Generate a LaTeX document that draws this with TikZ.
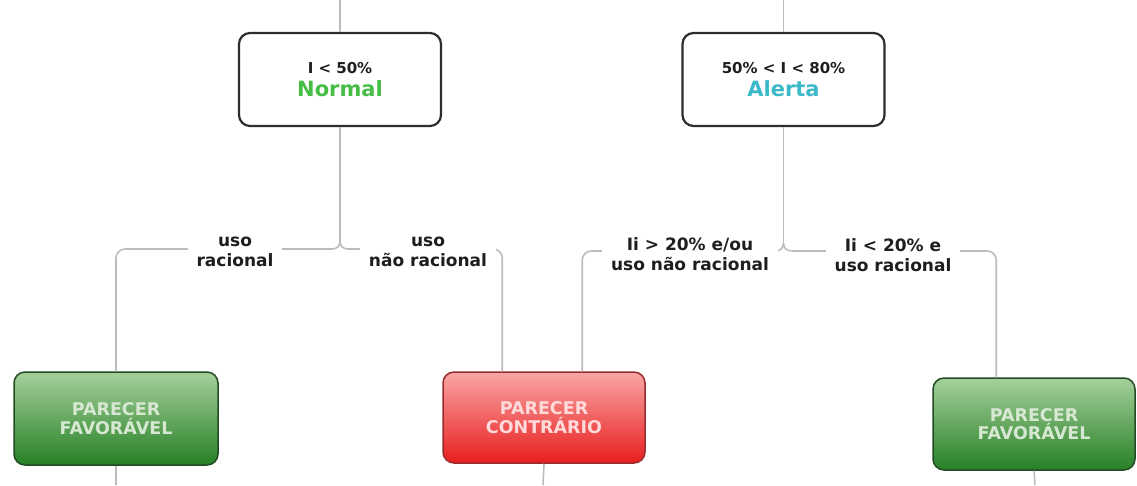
\documentclass[tikz,border=0pt]{standalone}
\usepackage{fontspec}
\setmainfont{DejaVu Sans}
\usetikzlibrary{calc}
\definecolor{conncol}{RGB}{188,188,188}
\definecolor{boxedge}{RGB}{45,45,45}
\definecolor{lblcol}{RGB}{30,30,30}
\definecolor{normalgreen}{RGB}{70,190,70}
\definecolor{alertcyan}{RGB}{60,185,200}
\definecolor{greentop}{RGB}{165,208,155}
\definecolor{greenbot}{RGB}{38,128,38}
\definecolor{greenedge}{RGB}{35,75,35}
\definecolor{greentext}{RGB}{215,232,210}
\definecolor{redtop}{RGB}{250,165,165}
\definecolor{redbot}{RGB}{232,30,30}
\definecolor{rededge}{RGB}{150,45,45}
\definecolor{redtext}{RGB}{255,218,218}
\begin{document}
\begin{tikzpicture}[x=1pt,y=-1pt,
  conn/.style={draw=conncol,line width=1.6pt,rounded corners=9pt},
  whitebox/.style={draw=boxedge,line width=2.2pt,rounded corners=11pt,fill=white,
    minimum width=202pt,minimum height=93pt,align=center,inner sep=0pt,text=lblcol,
    font=\bfseries},
  greenbox/.style={draw=greenedge,line width=1.5pt,rounded corners=11pt,
    top color=greentop,bottom color=greenbot,minimum width=204pt,minimum height=93pt,
    align=center,inner sep=0pt,text=greentext,font=\bfseries\fontsize{17.5}{18.5}\selectfont},
  redbox/.style={draw=rededge,line width=1.5pt,rounded corners=11pt,
    top color=redtop,bottom color=redbot,minimum width=202pt,minimum height=91pt,
    align=center,inner sep=0pt,text=redtext,font=\bfseries\fontsize{17.5}{18.5}\selectfont},
  lbl/.style={fill=white,align=center,text=lblcol,inner xsep=9pt,inner ysep=3pt,
    font=\bfseries\fontsize{17}{20}\selectfont}
]
\useasboundingbox (0,0) rectangle (1137,485);

% boxes
\node[whitebox] (normal) at (340,79.5)
  {{\fontsize{15}{17}\selectfont I < 50\%}\\[5pt]{\fontsize{21}{22}\selectfont\color{normalgreen}Normal}};
\node[whitebox] (alerta) at (783.5,79.5)
  {{\fontsize{15}{17}\selectfont 50\% < I < 80\%}\\[5pt]{\fontsize{21}{22}\selectfont\color{alertcyan}Alerta}};
\node[greenbox] (fav1) at (116,418.5) {PARECER\\FAVORÁVEL};
\node[redbox] (contr) at (544,417.5) {PARECER\\CONTRÁRIO};
\node[greenbox,minimum width=202pt,minimum height=92pt] (fav2) at (1034,424) {PARECER\\FAVORÁVEL};

% named coordinates
\coordinate (t1) at (340,0);
\coordinate (t2) at (783.5,0);
\coordinate (b1) at (116,485);
\coordinate (b2) at (543,485);
\coordinate (b3) at (1035,485);
\coordinate (nj) at (340,241);
\coordinate (nl) at (332,249);
\coordinate (nr) at (348,249);
\coordinate (aj) at (783.5,243);
\coordinate (al) at (775.5,251);
\coordinate (ar) at (791.5,251);
\coordinate (cin1) at ($(contr.north west)+(60,0)$);
\coordinate (cin2) at ($(contr.north west)+(140,0)$);
\coordinate (cin3) at ($(fav2.north west)+(64,0)$);

% connectors
\draw[conn] (t1) -- (normal.north);
\draw[conn] (t2) -- (alerta.north);
\draw[conn] (normal.south) -- (nj);
\draw[conn] (nj) .. controls (340,246) and (337,249) .. (nl);
\draw[conn] (nj) .. controls (340,246) and (343,249) .. (nr);
\draw[conn] (nl) -| (fav1.north);
\draw[conn] (nr) -| (cin1);
\draw[conn] (alerta.south) -- (aj);
\draw[conn] (aj) .. controls (783.5,248) and (780.5,251) .. (al);
\draw[conn] (aj) .. controls (783.5,248) and (786.5,251) .. (ar);
\draw[conn] (al) -| (cin2);
\draw[conn] (ar) -| (cin3);
\draw[conn] (fav1.south) -- (b1);
\draw[conn] (contr.south) -- (b2);
\draw[conn] (fav2.south) -- (b3);

% labels
\node[lbl] (l1) at (235,252) {uso\\racional};
\node[lbl] (l2) at (428,252) {uso\\não racional};
\node[lbl] (l3) at (690,254.5) {Ii > 20\% e/ou\\uso não racional};
\node[lbl] (l4) at (893,255) {Ii < 20\% e\\uso racional};
\end{tikzpicture}
\end{document}
